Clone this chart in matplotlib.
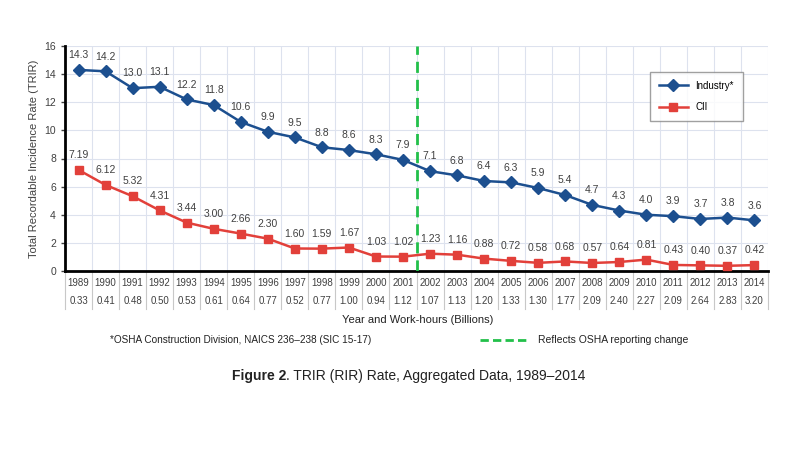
import matplotlib
matplotlib.use("Agg")
import matplotlib.pyplot as plt
from matplotlib.lines import Line2D
from matplotlib.text import Annotation
import matplotlib.transforms as mtransforms

years = list(range(1989, 2015))
industry = [14.3, 14.2, 13.0, 13.1, 12.2, 11.8, 10.6, 9.9, 9.5, 8.8, 8.6, 8.3, 7.9,
            7.1, 6.8, 6.4, 6.3, 5.9, 5.4, 4.7, 4.3, 4.0, 3.9, 3.7, 3.8, 3.6]
industry_labels = ["14.3", "14.2", "13.0", "13.1", "12.2", "11.8", "10.6", "9.9", "9.5",
                   "8.8", "8.6", "8.3", "7.9", "7.1", "6.8", "6.4", "6.3", "5.9", "5.4",
                   "4.7", "4.3", "4.0", "3.9", "3.7", "3.8", "3.6"]
cii = [7.19, 6.12, 5.32, 4.31, 3.44, 3.00, 2.66, 2.30, 1.60, 1.59, 1.67, 1.03, 1.02,
       1.23, 1.16, 0.88, 0.72, 0.58, 0.68, 0.57, 0.64, 0.81, 0.43, 0.40, 0.37, 0.42]
work_hours = ["0.33", "0.41", "0.48", "0.50", "0.53", "0.61", "0.64", "0.77", "0.52",
              "0.77", "1.00", "0.94", "1.12", "1.07", "1.13", "1.20", "1.33", "1.30",
              "1.77", "2.09", "2.40", "2.27", "2.09", "2.64", "2.83", "3.20"]
change_after = 2001

blue = "#1c4f8f"
red = "#e2403a"
green = "#22c04a"
txt = "#404040"

plt.rcParams['font.family'] = ['Liberation Sans', 'DejaVu Sans']

fig = plt.figure(figsize=(8, 4.51), dpi=100)
ax = fig.add_axes([65/800, 1-271/451, (768-65)/800, (271-46)/451])

x = list(range(len(years)))
ax.plot(x, industry, color=blue, lw=1.8, marker='D', ms=6, zorder=4, label="Industry*")
ax.plot(x, cii, color=red, lw=1.8, marker='s', ms=6, zorder=4, label="CII")

for xi, v, lab in zip(x, industry, industry_labels):
    ax.annotate(lab, (xi, v), xytext=(0, 7), textcoords='offset points',
                ha='center', va='bottom', fontsize=7.5, color=txt)
for xi, v in zip(x, cii):
    ax.annotate(f"{v:.2f}", (xi, v), xytext=(0, 7), textcoords='offset points',
                ha='center', va='bottom', fontsize=7.5, color=txt)

ax.set_xlim(-0.5, len(years) - 0.5)
ax.set_ylim(0, 16)
ax.set_yticks(range(0, 17, 2))
ax.set_xticks([i - 0.5 for i in range(len(years) + 1)])
ax.set_xticklabels([])
ax.tick_params(axis='x', length=0)
ax.tick_params(axis='y', labelsize=7.5, colors=txt, length=3, width=1)
ax.grid(True, color="#dde2ee", lw=0.8)
ax.set_axisbelow(True)
for s in ['top', 'right']:
    ax.spines[s].set_visible(False)
ax.spines['left'].set_linewidth(2)
ax.spines['bottom'].set_linewidth(2)
ax.set_ylabel("Total Recordable Incidence Rate (TRIR)", fontsize=8, color=txt)

bx = years.index(change_after) + 0.5
ax.axvline(bx, color=green, lw=2, ls=(0, (4, 2.5)), zorder=3)

# table below the axis
trans = mtransforms.blended_transform_factory(ax.transData, ax.transAxes)
h = (271-46)
for xi, yr, wh in zip(x, years, work_hours):
    ax.text(xi, -(283-271)/h, str(yr), transform=trans, ha='center', va='center',
            fontsize=7, color=txt, clip_on=False)
    ax.text(xi, -(301-271)/h, wh, transform=trans, ha='center', va='center',
            fontsize=7, color=txt, clip_on=False)
for i in range(len(years) + 1):
    ax.plot([i - 0.5, i - 0.5], [0, -(309-271)/h], transform=trans, color="#c8c8c8",
            lw=0.8, clip_on=False, zorder=1)

fig.text(418/800, 1-320/451, "Year and Work-hours (Billions)", ha='center', va='center',
         fontsize=8, color="#222222")

leg = ax.legend(loc='upper left', bbox_to_anchor=((645-65)/703, 1-(67-46)/225),
                fontsize=7, frameon=True, fancybox=False, edgecolor="#888888",
                borderpad=0.9, labelspacing=1.2, handlelength=3)
leg.get_frame().set_linewidth(1)

fig.text(110/800, 1-340/451, "*OSHA Construction Division, NAICS 236\u2013238 (SIC 15-17)",
         ha='left', va='center', fontsize=7.2, color="#222222")
fig.lines.append(Line2D([480/800, 530/800], [1-340/451, 1-340/451], transform=fig.transFigure,
                        color=green, lw=2, ls=(0, (3, 1.5))))
fig.text(538/800, 1-340/451, "Reflects OSHA reporting change", ha='left', va='center',
         fontsize=7.5, color="#222222")

t1 = fig.text(232/800, 1-376/451, "Figure 2", ha='left', va='center', fontsize=10,
              fontweight='bold', color="#222222")
a = Annotation(". TRIR (RIR) Rate, Aggregated Data, 1989\u20132014", xy=(1, 0.5),
               xycoords=t1, xytext=(0, 0), textcoords='offset points',
               ha='left', va='center', fontsize=10, color="#222222")
fig.add_artist(a)

fig.savefig("out.png", dpi=100)
